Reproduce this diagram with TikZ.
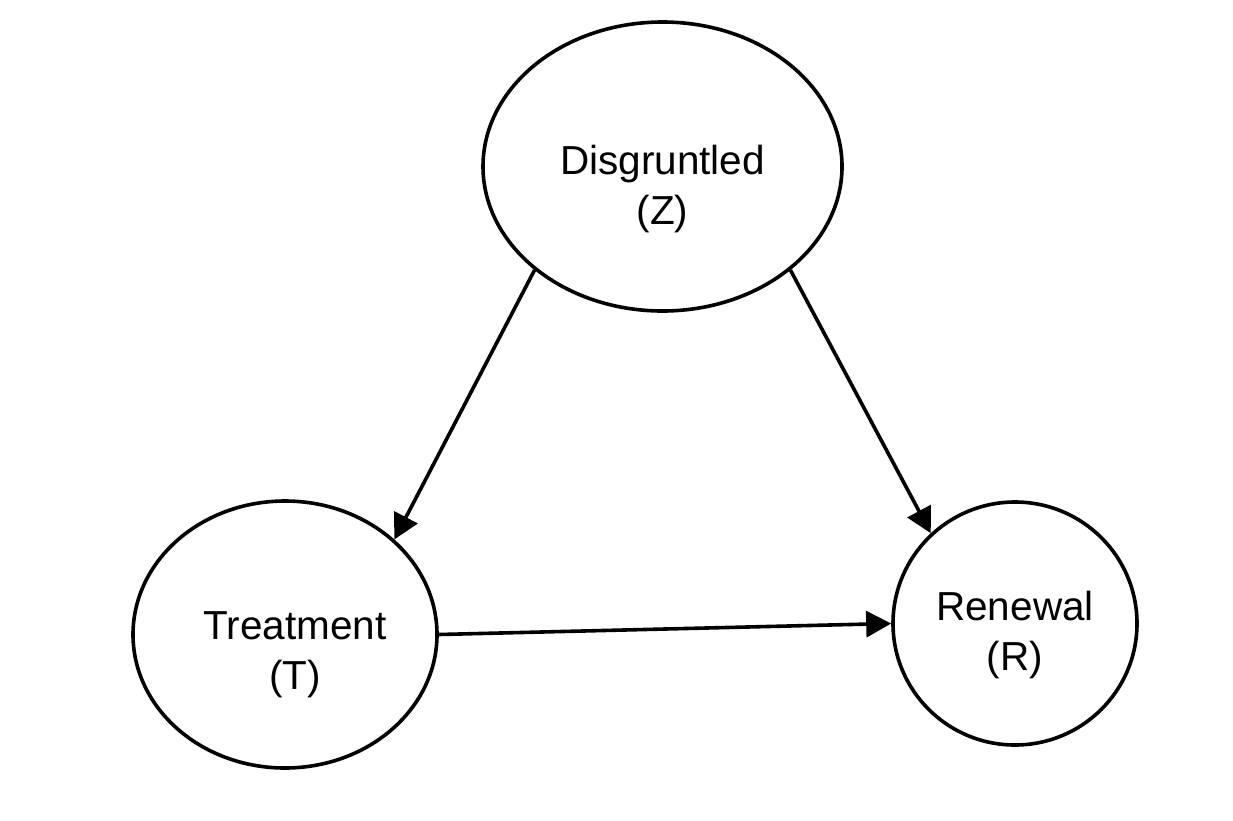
\documentclass[tikz,border=0pt]{standalone}
\usepackage{fontspec}
\setmainfont{Liberation Sans}
\usetikzlibrary{arrows.meta,positioning,shapes.geometric}

\begin{document}
\begin{tikzpicture}[
    x=1pt,y=-1pt,
    ->,>={Triangle[length=25pt,width=26pt]},line width=3.6pt,
    var/.style={draw,ellipse,inner sep=0pt},
    every label/.style={align=center,font=\fontsize{40.5}{50}\selectfont}
  ]
  \useasboundingbox (0,0) rectangle (1233,820);
  \node[var,minimum width=359pt,minimum height=289pt,
        label={[yshift=-22.5pt]center:Disgruntled\\(Z)}] (Z) at (662.5,166.5) {};
  \node[var,minimum width=304pt,minimum height=267pt,
        label={[xshift=10pt,yshift=-20.5pt]center:Treatment\\(T)}] (T) at (285,634.5) {};
  \node[var,minimum width=244pt,minimum height=243pt,
        label={[yshift=-11.5pt]center:Renewal\\(R)}] (R) at (1015,623.5) {};
  \draw (Z.219.1) -- (T.41.5);
  \draw (Z.321.4) -- (R.133.2);
  \draw (T.east) -- (R.west);
\end{tikzpicture}
\end{document}
